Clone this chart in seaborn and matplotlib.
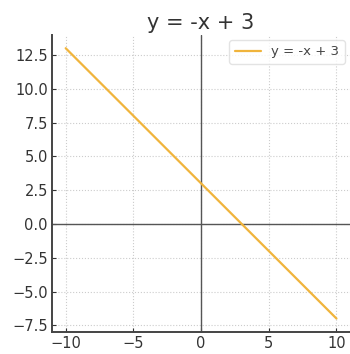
import numpy as np
import pandas as pd
import seaborn as sns
import matplotlib
matplotlib.use("Agg")
import matplotlib.pyplot as plt

x_values = [-10, 10]
y_values = [13, -7]
label = "y = -x + 3"
title = "y = -x + 3"

sns.set_style("ticks")
plt.rcParams['font.family'] = ['DejaVu Sans']

df = pd.DataFrame({"x": x_values, "y": y_values})

fig = plt.figure(figsize=(3.5, 3.54), dpi=100)
ax = fig.add_axes([0.149, 0.062, 0.851, 0.840])

sns.lineplot(data=df, x="x", y="y", ax=ax, color="#f0b43c", linewidth=1.6, label=label)
ax.axhline(0, color="#555555", linewidth=1.0, zorder=1)
ax.axvline(0, color="#555555", linewidth=1.0, zorder=1)

ax.set_xlim(-11, 11)
ax.set_ylim(-8, 14)
ax.set_xticks([-10, -5, 0, 5, 10])
ax.set_yticks([-7.5, -5.0, -2.5, 0.0, 2.5, 5.0, 7.5, 10.0, 12.5])
ax.grid(True, linestyle=":", color="#cccccc", linewidth=0.8)
ax.set_xlabel("")
ax.set_ylabel("")
ax.set_title(title, fontsize=15, color="#333333", pad=4)
ax.tick_params(labelsize=10.5, colors="#333333", length=3, direction="in", pad=3)
for s in ["top", "right"]:
    ax.spines[s].set_visible(False)
for s in ["left", "bottom"]:
    ax.spines[s].set_color("#444444")
    ax.spines[s].set_linewidth(1.4)
leg = ax.legend(loc="upper right", fontsize=9.5, frameon=True, borderaxespad=0.4)
leg.get_frame().set_edgecolor("#dddddd")
for t in leg.get_texts():
    t.set_color("#444444")

fig.savefig("out.png", dpi=100)
